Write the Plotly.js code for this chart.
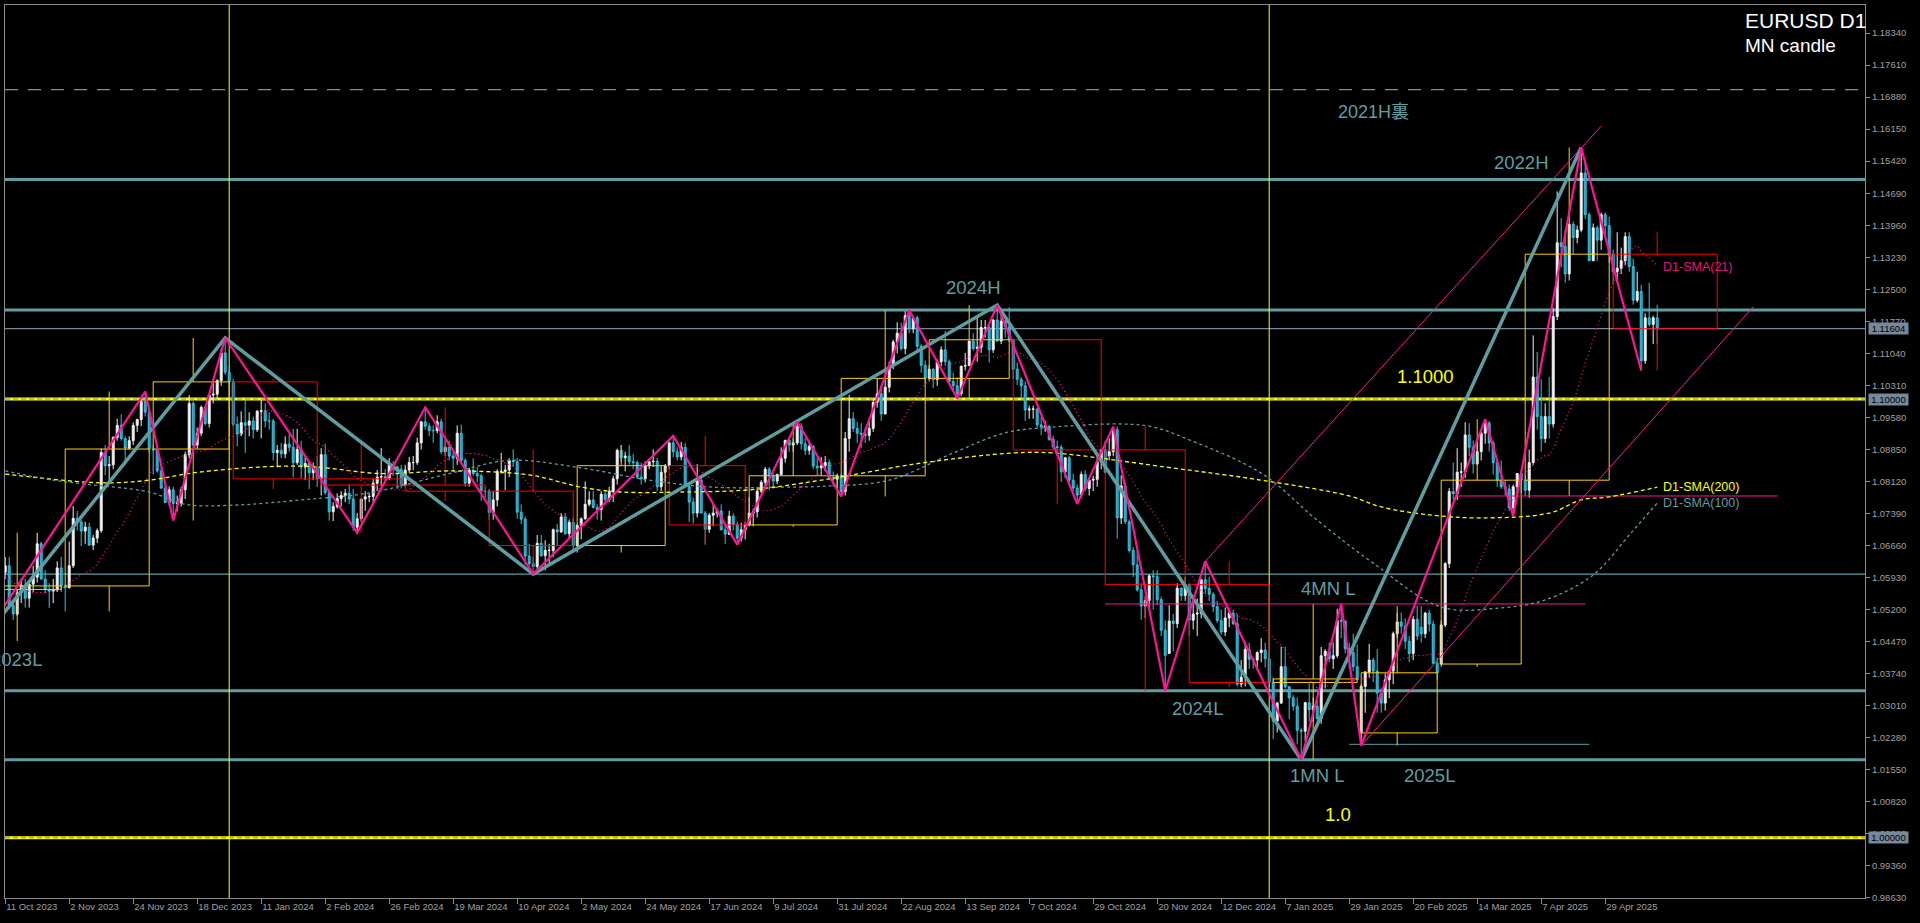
<!DOCTYPE html>
<html><head><meta charset="utf-8">
<script src="https://cdn.plot.ly/plotly-3.0.1.min.js"></script>
<style>html,body{margin:0;padding:0;background:#000;overflow:hidden}#chart{width:1920px;height:923px}</style>
</head><body><div id="chart"></div>
<script>
// ---------------- DATA ----------------
const firstDate = '2023-10-11';
// 20 daily closes before the first visible bar (seed for the 21-day SMA)
const preCloses = [1.0732,1.0643,1.0657,1.0690,1.0678,1.0662,1.0659,1.0646,1.0590,1.0570,1.0502,1.0566,1.0573,1.0475,1.0469,1.0505,1.0549,1.0587,1.0563,1.0605];

const opens = [
// Oct 2023
1.0605,1.0620,1.0530,1.0510,1.0558,1.0576,1.0546,1.0578,1.0594,1.0670,1.0590,1.0565,1.0562,1.0565,1.0615,
// Nov 2023
1.0574,1.0570,1.0620,1.0728,1.0720,1.0699,1.0708,1.0667,1.0683,1.0700,1.0878,1.0848,1.0850,1.0912,1.0940,1.0910,1.0888,1.0905,1.0940,1.0953,1.0995,1.0970,
// Dec 2023
1.0886,1.0884,1.0836,1.0797,1.0764,1.0793,1.0762,1.0763,1.0793,1.0873,1.0990,1.0895,1.0922,1.0981,1.0944,1.1009,1.1011,1.1042,1.1105,1.1061,
// Jan 2024
1.1039,1.0942,1.0920,1.0946,1.0940,1.0950,1.0930,1.0972,1.0973,1.0950,1.0950,1.0878,1.0883,1.0875,1.0897,1.0890,1.0855,1.0885,1.0845,1.0853,1.0832,1.0845,
// Feb 2024
1.0818,1.0873,1.0787,1.0743,1.0755,1.0773,1.0780,1.0785,1.0772,1.0708,1.0727,1.0772,1.0777,1.0778,1.0808,1.0822,1.0823,1.0820,1.0850,1.0845,1.0840,
// Mar 2024
1.0804,1.0838,1.0855,1.0855,1.0900,1.0948,1.0938,1.0928,1.0928,1.0948,1.0880,1.0890,1.0870,1.0865,1.0922,1.0860,1.0808,1.0838,1.0830,1.0825,1.0790,
// Apr 2024
1.0790,1.0741,1.0770,1.0835,1.0835,1.0838,1.0860,1.0857,1.0742,1.0726,1.0642,1.0625,1.0618,1.0671,1.0643,1.0655,1.0655,1.0702,1.0697,1.0731,1.0693,1.0719,
// May 2024
1.0666,1.0712,1.0727,1.0760,1.0770,1.0753,1.0748,1.0783,1.0771,1.0790,1.0818,1.0883,1.0866,1.0870,1.0857,1.0855,1.0822,1.0818,1.0848,1.0857,1.0858,1.0800,1.0833,
// Jun 2024
1.0848,1.0900,1.0880,1.0868,1.0890,1.0801,1.0765,1.0740,1.0815,1.0740,1.0703,1.0735,1.0740,1.0745,1.0702,1.0692,1.0733,1.0714,1.0683,1.0702,
// Jul 2024
1.0713,1.0740,1.0743,1.0790,1.0810,1.0840,1.0824,1.0813,1.0828,1.0865,1.0906,1.0895,1.0900,1.0937,1.0898,1.0883,1.0892,1.0847,1.0843,1.0848,1.0855,1.0820,1.0817,
// Aug 2024
1.0825,1.0789,1.0910,1.0955,1.0933,1.0922,1.0920,1.0917,1.0933,1.0992,1.1012,1.0966,1.1027,1.1075,1.1130,1.1150,1.1115,1.1190,1.1160,1.1185,1.1120,1.1077,
// Sep 2024
1.1047,1.1068,1.1044,1.1085,1.1112,1.1085,1.1040,1.1030,1.1012,1.1075,1.1076,1.1132,1.1115,1.1118,1.1163,1.1163,1.1112,1.1180,1.1132,1.1177,1.1165,
// Oct 2024
1.1135,1.1068,1.1045,1.1030,1.0975,1.0977,1.0977,1.0941,1.0936,1.0938,1.0908,1.0891,1.0890,1.0834,1.0866,1.0815,1.0797,1.0781,1.0828,1.0796,1.0815,1.0817,1.0857,
// Nov 2024
1.0884,1.0870,1.0880,1.0930,1.0729,1.0802,1.0720,1.0655,1.0622,1.0565,1.0528,1.0541,1.0597,1.0595,1.0543,1.0473,1.0420,1.0494,1.0488,1.0569,1.0552,
// Dec 2024
1.0577,1.0496,1.0510,1.0512,1.0588,1.0568,1.0555,1.0527,1.0495,1.0469,1.0501,1.0512,1.0488,1.0350,1.0366,1.0429,1.0407,1.0405,1.0422,1.0428,1.0408,
// Jan 2025
1.0354,1.0266,1.0307,1.0390,1.0344,1.0319,1.0300,1.0245,1.0243,1.0308,1.0292,1.0300,1.0272,1.0415,1.0425,1.0408,1.0415,1.0495,1.0494,1.0431,1.0422,1.0390,
// Feb 2025
1.0239,1.0345,1.0378,1.0405,1.0380,1.0330,1.0307,1.0360,1.0380,1.0465,1.0492,1.0482,1.0448,1.0420,1.0498,1.0480,1.0465,1.0512,1.0487,1.0398,
// Mar 2025
1.0396,1.0485,1.0625,1.0789,1.0784,1.0833,1.0834,1.0918,1.0890,1.0852,1.0880,1.0922,1.0945,1.0900,1.0855,1.0815,1.0800,1.0795,1.0752,1.0800,1.0830,
// Apr 2025
1.0815,1.0792,1.0855,1.1050,1.0960,1.0910,1.0960,1.0943,1.1188,1.1356,1.1348,1.1285,1.1398,1.1368,1.1385,1.1515,1.1420,1.1315,1.1390,1.1362,1.1420,1.1395,
// May 2025
1.1330,1.1290,1.1298,1.1315,1.1370,1.1302,1.1225,1.1245,1.1087,1.1185,1.1170,1.1185
];
const highs = [
1.0640,1.0640,1.0540,1.0565,1.0590,1.0590,1.0582,1.0620,1.0695,1.0675,1.0610,1.0580,1.0590,1.0630,1.0640,
1.0577,1.0675,1.0756,1.0745,1.0725,1.0720,1.0718,1.0690,1.0705,1.0887,1.0895,1.0870,1.0915,1.0955,1.0965,1.0915,1.0915,1.0947,1.0955,1.1000,1.1017,1.0980,
1.0895,1.0890,1.0845,1.0805,1.0801,1.0800,1.0780,1.0800,1.0880,1.1009,1.0995,1.0935,1.0985,1.0985,1.1012,1.1040,1.1045,1.1115,1.1139,1.1075,
1.1046,1.0960,1.0972,1.0998,1.0970,1.0960,1.0975,1.0998,1.0990,1.0970,1.0955,1.0895,1.0900,1.0915,1.0920,1.0932,1.0932,1.0905,1.0870,1.0858,1.0855,1.0870,
1.0888,1.0898,1.0790,1.0765,1.0785,1.0790,1.0795,1.0805,1.0795,1.0740,1.0770,1.0790,1.0785,1.0818,1.0838,1.0888,1.0840,1.0865,1.0858,1.0848,1.0850,
1.0850,1.0868,1.0870,1.0912,1.0950,1.0981,1.0945,1.0940,1.0963,1.0955,1.0907,1.0905,1.0880,1.0940,1.0942,1.0865,1.0843,1.0865,1.0845,1.0830,1.0800,
1.0795,1.0790,1.0840,1.0877,1.0850,1.0865,1.0885,1.0866,1.0760,1.0732,1.0670,1.0640,1.0690,1.0690,1.0678,1.0670,1.0705,1.0715,1.0740,1.0740,1.0725,1.0730,
1.0715,1.0730,1.0812,1.0790,1.0790,1.0760,1.0790,1.0790,1.0800,1.0825,1.0887,1.0895,1.0880,1.0895,1.0875,1.0860,1.0855,1.0858,1.0865,1.0885,1.0866,1.0850,1.0852,
1.0902,1.0916,1.0890,1.0902,1.0900,1.0805,1.0775,1.0852,1.0823,1.0745,1.0740,1.0760,1.0750,1.0760,1.0712,1.0745,1.0740,1.0720,1.0718,1.0720,
1.0776,1.0750,1.0800,1.0815,1.0845,1.0845,1.0830,1.0830,1.0890,1.0905,1.0910,1.0910,1.0948,1.0945,1.0910,1.0905,1.0895,1.0867,1.0868,1.0870,1.0862,1.0835,1.0830,
1.0830,1.0925,1.1009,1.0970,1.0948,1.0945,1.0935,1.0948,1.1000,1.1047,1.1030,1.1045,1.1085,1.1135,1.1175,1.1174,1.1200,1.1202,1.1187,1.1190,1.1125,1.1088,
1.1077,1.1070,1.1090,1.1120,1.1155,1.1090,1.1060,1.1050,1.1075,1.1105,1.1133,1.1150,1.1190,1.1180,1.1180,1.1167,1.1182,1.1214,1.1190,1.1180,1.1209,
1.1137,1.1083,1.1050,1.1040,1.0985,1.0985,1.0980,1.0960,1.0950,1.0940,1.0916,1.0905,1.0895,1.0868,1.0870,1.0830,1.0805,1.0835,1.0838,1.0822,1.0825,1.0870,1.0885,
1.0905,1.0910,1.0937,1.0937,1.0826,1.0810,1.0725,1.0663,1.0654,1.0580,1.0550,1.0600,1.0610,1.0610,1.0550,1.0495,1.0530,1.0510,1.0580,1.0570,1.0595,
1.0580,1.0540,1.0545,1.0590,1.0630,1.0595,1.0560,1.0540,1.0520,1.0525,1.0522,1.0520,1.0510,1.0405,1.0445,1.0445,1.0410,1.0425,1.0455,1.0445,1.0420,
1.0365,1.0310,1.0436,1.0435,1.0346,1.0325,1.0320,1.0250,1.0310,1.0352,1.0320,1.0312,1.0435,1.0430,1.0445,1.0445,1.0522,1.0533,1.0495,1.0445,1.0465,1.0440,
1.0350,1.0380,1.0442,1.0410,1.0430,1.0340,1.0375,1.0380,1.0470,1.0513,1.0513,1.0500,1.0460,1.0505,1.0528,1.0528,1.0515,1.0520,1.0495,1.0410,
1.0495,1.0628,1.0797,1.0855,1.0888,1.0855,1.0947,1.0945,1.0905,1.0910,1.0925,1.0954,1.0950,1.0905,1.0862,1.0860,1.0815,1.0805,1.0805,1.0830,1.0838,
1.0825,1.0885,1.1145,1.1107,1.1045,1.0990,1.1050,1.1208,1.1473,1.1412,1.1385,1.1400,1.1405,1.1395,1.1573,1.1545,1.1425,1.1400,1.1395,1.1425,1.1425,1.1415,
1.1340,1.1380,1.1345,1.1380,1.1380,1.1320,1.1290,1.1260,1.1195,1.1265,1.1190,1.1215
];
const lows = [
1.0590,1.0526,1.0496,1.0505,1.0535,1.0525,1.0525,1.0560,1.0582,1.0588,1.0557,1.0524,1.0535,1.0560,1.0560,
1.0516,1.0568,1.0615,1.0700,1.0665,1.0670,1.0665,1.0656,1.0672,1.0695,1.0826,1.0812,1.0840,1.0905,1.0905,1.0852,1.0885,1.0895,1.0925,1.0938,1.0960,1.0880,
1.0828,1.0832,1.0795,1.0763,1.0757,1.0723,1.0744,1.0755,1.0772,1.0865,1.0880,1.0887,1.0915,1.0940,1.0935,1.0990,1.1000,1.1030,1.1055,1.1030,
1.0937,1.0892,1.0915,1.0877,1.0915,1.0910,1.0925,1.0910,1.0935,1.0930,1.0860,1.0844,1.0865,1.0865,1.0880,1.0821,1.0850,1.0820,1.0815,1.0795,1.0815,1.0800,
1.0780,1.0782,1.0723,1.0722,1.0750,1.0755,1.0765,1.0760,1.0700,1.0695,1.0720,1.0745,1.0765,1.0760,1.0790,1.0800,1.0815,1.0815,1.0825,1.0795,1.0796,
1.0800,1.0832,1.0838,1.0850,1.0885,1.0930,1.0915,1.0900,1.0922,1.0875,1.0870,1.0860,1.0835,1.0850,1.0855,1.0800,1.0800,1.0825,1.0810,1.0768,1.0775,
1.0725,1.0725,1.0755,1.0830,1.0792,1.0822,1.0845,1.0727,1.0715,1.0622,1.0620,1.0601,1.0610,1.0640,1.0610,1.0625,1.0640,1.0665,1.0695,1.0690,1.0680,1.0650,
1.0650,1.0680,1.0725,1.0755,1.0750,1.0725,1.0723,1.0760,1.0765,1.0765,1.0805,1.0855,1.0835,1.0850,1.0840,1.0818,1.0805,1.0810,1.0840,1.0845,1.0790,1.0790,1.0812,
1.0840,1.0867,1.0860,1.0860,1.0800,1.0720,1.0716,1.0730,1.0740,1.0668,1.0695,1.0710,1.0730,1.0700,1.0670,1.0690,1.0700,1.0668,1.0675,1.0680,
1.0710,1.0710,1.0730,1.0785,1.0800,1.0792,1.0796,1.0806,1.0825,1.0855,1.0880,1.0880,1.0895,1.0885,1.0872,1.0873,1.0840,1.0825,1.0825,1.0835,1.0815,1.0800,1.0795,
1.0778,1.0780,1.0880,1.0925,1.0900,1.0888,1.0900,1.0905,1.0925,1.0980,1.0950,1.0965,1.1015,1.1068,1.1104,1.1110,1.1102,1.1150,1.1150,1.1110,1.1060,1.1035,
1.1040,1.1025,1.1030,1.1075,1.1075,1.1040,1.1017,1.1001,1.1007,1.1065,1.1075,1.1110,1.1085,1.1105,1.1140,1.1083,1.1105,1.1130,1.1125,1.1140,1.1130,
1.1045,1.1032,1.1002,1.0950,1.0955,1.0955,1.0935,1.0918,1.0925,1.0905,1.0885,1.0870,1.0811,1.0820,1.0810,1.0790,1.0761,1.0775,1.0790,1.0780,1.0790,1.0800,1.0840,
1.0830,1.0860,1.0870,1.0682,1.0715,1.0715,1.0650,1.0594,1.0561,1.0497,1.0500,1.0525,1.0520,1.0530,1.0460,1.0335,1.0425,1.0425,1.0478,1.0540,1.0540,
1.0460,1.0475,1.0460,1.0500,1.0555,1.0540,1.0515,1.0490,1.0463,1.0460,1.0480,1.0485,1.0345,1.0343,1.0345,1.0385,1.0385,1.0390,1.0400,1.0388,1.0343,
1.0225,1.0240,1.0305,1.0340,1.0270,1.0290,1.0213,1.0178,1.0220,1.0265,1.0265,1.0265,1.0260,1.0340,1.0400,1.0385,1.0410,1.0455,1.0420,1.0385,1.0380,1.0360,
1.0210,1.0285,1.0365,1.0355,1.0285,1.0285,1.0290,1.0318,1.0350,1.0455,1.0465,1.0430,1.0400,1.0405,1.0450,1.0445,1.0455,1.0470,1.0395,1.0360,
1.0390,1.0480,1.0615,1.0770,1.0770,1.0800,1.0820,1.0870,1.0830,1.0850,1.0860,1.0898,1.0880,1.0828,1.0800,1.0795,1.0780,1.0745,1.0733,1.0780,1.0785,
1.0779,1.0775,1.0850,1.0930,1.0880,1.0900,1.0910,1.0935,1.1180,1.1300,1.1265,1.1270,1.1330,1.1355,1.1380,1.1410,1.1315,1.1315,1.1315,1.1340,1.1375,1.1310,
1.1265,1.1265,1.1285,1.1305,1.1290,1.1215,1.1220,1.1065,1.1080,1.1165,1.1125,1.1125
];
const closes = [
1.0620,1.0530,1.0510,1.0558,1.0576,1.0546,1.0578,1.0594,1.0670,1.0590,1.0565,1.0562,1.0565,1.0615,1.0574,
1.0570,1.0620,1.0728,1.0720,1.0699,1.0708,1.0667,1.0683,1.0700,1.0878,1.0848,1.0850,1.0912,1.0940,1.0910,1.0888,1.0905,1.0940,1.0953,1.0995,1.0970,1.0886,
1.0884,1.0836,1.0797,1.0764,1.0793,1.0762,1.0763,1.0793,1.0873,1.0990,1.0895,1.0922,1.0981,1.0944,1.1009,1.1011,1.1042,1.1105,1.1061,1.1039,
1.0942,1.0920,1.0946,1.0940,1.0950,1.0930,1.0972,1.0973,1.0950,1.0950,1.0878,1.0883,1.0875,1.0897,1.0890,1.0855,1.0885,1.0845,1.0853,1.0832,1.0845,1.0818,
1.0873,1.0787,1.0743,1.0755,1.0773,1.0780,1.0785,1.0772,1.0708,1.0727,1.0772,1.0777,1.0778,1.0808,1.0822,1.0823,1.0820,1.0850,1.0845,1.0840,1.0804,
1.0838,1.0855,1.0855,1.0900,1.0948,1.0938,1.0928,1.0928,1.0948,1.0880,1.0890,1.0870,1.0865,1.0922,1.0860,1.0808,1.0838,1.0830,1.0825,1.0790,1.0790,
1.0741,1.0770,1.0835,1.0835,1.0838,1.0860,1.0857,1.0742,1.0726,1.0642,1.0625,1.0618,1.0671,1.0643,1.0655,1.0655,1.0702,1.0697,1.0731,1.0693,1.0719,1.0666,
1.0712,1.0727,1.0760,1.0770,1.0753,1.0748,1.0783,1.0771,1.0790,1.0818,1.0883,1.0866,1.0870,1.0857,1.0855,1.0822,1.0818,1.0848,1.0857,1.0858,1.0800,1.0833,1.0848,
1.0900,1.0880,1.0868,1.0890,1.0801,1.0765,1.0740,1.0815,1.0740,1.0703,1.0735,1.0740,1.0745,1.0702,1.0692,1.0733,1.0714,1.0683,1.0702,1.0713,
1.0740,1.0743,1.0790,1.0810,1.0840,1.0824,1.0813,1.0828,1.0865,1.0906,1.0895,1.0900,1.0937,1.0898,1.0883,1.0892,1.0847,1.0843,1.0848,1.0855,1.0820,1.0817,1.0825,
1.0789,1.0910,1.0955,1.0933,1.0922,1.0920,1.0917,1.0933,1.0992,1.1012,1.0966,1.1027,1.1075,1.1130,1.1150,1.1115,1.1190,1.1160,1.1185,1.1120,1.1077,1.1047,
1.1068,1.1044,1.1085,1.1112,1.1085,1.1040,1.1030,1.1012,1.1075,1.1076,1.1132,1.1115,1.1118,1.1163,1.1163,1.1112,1.1180,1.1132,1.1177,1.1165,1.1135,
1.1068,1.1045,1.1030,1.0975,1.0977,1.0977,1.0941,1.0936,1.0938,1.0908,1.0891,1.0890,1.0834,1.0866,1.0815,1.0797,1.0781,1.0828,1.0796,1.0815,1.0817,1.0857,1.0884,
1.0833,1.0880,1.0930,1.0729,1.0802,1.0720,1.0655,1.0622,1.0565,1.0528,1.0541,1.0597,1.0595,1.0543,1.0473,1.0416,1.0494,1.0488,1.0569,1.0552,1.0577,
1.0496,1.0510,1.0512,1.0588,1.0568,1.0555,1.0527,1.0495,1.0469,1.0501,1.0512,1.0488,1.0350,1.0366,1.0429,1.0407,1.0405,1.0422,1.0428,1.0408,1.0354,
1.0266,1.0307,1.0390,1.0344,1.0319,1.0300,1.0245,1.0243,1.0308,1.0292,1.0300,1.0272,1.0415,1.0425,1.0408,1.0415,1.0495,1.0494,1.0431,1.0422,1.0390,1.0362,
1.0345,1.0378,1.0405,1.0380,1.0330,1.0307,1.0360,1.0380,1.0465,1.0492,1.0482,1.0448,1.0420,1.0498,1.0460,1.0465,1.0512,1.0487,1.0398,1.0376,
1.0485,1.0625,1.0789,1.0784,1.0833,1.0834,1.0918,1.0890,1.0852,1.0880,1.0922,1.0945,1.0900,1.0855,1.0815,1.0800,1.0795,1.0752,1.0800,1.0830,1.0815,
1.0792,1.0855,1.1050,1.0960,1.0910,1.0960,1.0943,1.1188,1.1356,1.1348,1.1285,1.1398,1.1368,1.1385,1.1515,1.1420,1.1315,1.1390,1.1362,1.1420,1.1395,1.1330,
1.1290,1.1298,1.1315,1.1370,1.1302,1.1225,1.1245,1.1087,1.1185,1.1170,1.1185,1.1160
];

// monthly candles (MN candle)
const months  = ['2023-10','2023-11','2023-12','2024-01','2024-02','2024-03','2024-04','2024-05','2024-06','2024-07','2024-08','2024-09','2024-10','2024-11','2024-12','2025-01','2025-02','2025-03','2025-04','2025-05'];
const mOpen  = [1.0566,1.0574,1.0886,1.1039,1.0818,1.0804,1.0790,1.0666,1.0848,1.0713,1.0825,1.1047,1.1135,1.0884,1.0577,1.0354,1.0239,1.0396,1.0815,1.1330];
const mHigh  = [1.0695,1.1017,1.1139,1.1046,1.0898,1.0981,1.0885,1.0895,1.0916,1.0948,1.1202,1.1214,1.1137,1.0937,1.0630,1.0533,1.0528,1.0954,1.1573,1.1380];
const mLow   = [1.0448,1.0516,1.0723,1.0795,1.0695,1.0768,1.0601,1.0650,1.0668,1.0709,1.0778,1.1001,1.0761,1.0335,1.0343,1.0178,1.0210,1.0390,1.0779,1.1065];
const mClose = [1.0574,1.0886,1.1039,1.0818,1.0804,1.0790,1.0666,1.0848,1.0713,1.0825,1.1047,1.1135,1.0884,1.0577,1.0354,1.0362,1.0376,1.0815,1.1330,1.1160];

// swing zigzags
const zzPinkDates  = ['2023-10-03','2023-11-29','2023-12-08','2023-12-28','2024-02-14','2024-03-08','2024-04-16','2024-06-04','2024-06-26','2024-07-17','2024-08-01','2024-08-26','2024-09-11','2024-09-25','2024-10-23','2024-11-05','2024-11-22','2024-12-06','2025-01-13','2025-01-27','2025-02-03','2025-03-18','2025-03-27','2025-04-21','2025-05-12'];
const zzPinkPrices = [1.0448,1.1017,1.0723,1.1139,1.0695,1.0981,1.0601,1.0916,1.0668,1.0948,1.0778,1.1202,1.1001,1.1214,1.0761,1.0937,1.0335,1.0630,1.0178,1.0533,1.0210,1.0954,1.0733,1.1573,1.1065];
const zzCyanDates  = ['2023-10-03','2023-12-28','2024-04-16','2024-09-25','2025-01-13','2025-04-21'];
const zzCyanPrices = [1.0448,1.1139,1.0601,1.1214,1.0178,1.1573];

// trend channel (pink thin)
const chanADates = ['2024-12-06','2025-04-28'], chanAPrices = [1.0630,1.1622];
const chanBDates = ['2025-02-03','2025-06-09'], chanBPrices = [1.0210,1.1210];
// partial horizontal levels
const segPinkDates = [['2024-11-01','2025-04-22'],['2025-03-07','2025-06-15']], segPinkPrices = [1.0533,1.0779];
const seg2025LDates = ['2025-01-29','2025-04-23'], seg2025LPrice = 1.0213;

// full-width horizontal levels
const lvlDashed = 1.1705;
const lvlThick = [1.1500,1.1203,1.0335,1.0178];
const lvlThin = [1.0601];
const lvlYellow = [1.1000,1.0000];
const bidPrice = 1.11604;
const yearEndDates = ['2023-12-29','2024-12-31'];

// moving averages (bar number, value)
const sma200Bar = [0,24,36,49,74,94,111,131,144,154,169,186,204,229,252,262,290,314,336,344,356,369,386,394,401,413];
const sma200Val = [1.0829,1.0809,1.0815,1.0834,1.0847,1.0830,1.0836,1.0827,1.0799,1.0788,1.0788,1.0793,1.0815,1.0854,1.0877,1.0877,1.0845,1.0815,1.0779,1.0754,1.0736,1.0729,1.0740,1.0770,1.0777,1.0799];
const sma100Bar = [0,12,20,36,45,57,74,91,111,126,144,161,177,194,204,221,237,250,262,279,287,296,314,328,342,359,374,385,397,406,413];
const sma100Val = [1.0836,1.0815,1.0806,1.0788,1.0760,1.0758,1.0770,1.0786,1.0830,1.0860,1.0843,1.0815,1.0799,1.0799,1.0801,1.0815,1.0877,1.0923,1.0936,1.0943,1.0936,1.0907,1.0831,1.0724,1.0626,1.0526,1.0524,1.0542,1.0599,1.0690,1.0763];

const tickLabels = ['11 Oct 2023','2 Nov 2023','24 Nov 2023','18 Dec 2023','11 Jan 2024','2 Feb 2024','26 Feb 2024','19 Mar 2024','10 Apr 2024','2 May 2024','24 May 2024','17 Jun 2024','9 Jul 2024','31 Jul 2024','22 Aug 2024','13 Sep 2024','7 Oct 2024','29 Oct 2024','20 Nov 2024','12 Dec 2024','7 Jan 2025','29 Jan 2025','20 Feb 2025','14 Mar 2025','7 Apr 2025','29 Apr 2025'];

// ---------------- CALENDAR (trading-bar axis) ----------------
const DAY = 86400000;
function parseD(s){const p=s.split('-').map(Number);return Date.UTC(p[0],p[1]-1,p[2]||1);}
function isTD(t){const d=new Date(t),w=d.getUTCDay();if(w===0||w===6)return false;const mo=d.getUTCMonth(),da=d.getUTCDate();if(mo===11&&da===25)return false;if(mo===0&&da===1)return false;return true;}
const N = closes.length;
const t0 = parseD(firstDate);
const barTimes = [];
for(let t=t0; barTimes.length<N; t+=DAY){ if(isTD(t)) barTimes.push(t); }
const lastT = barTimes[N-1];
function idxT(t){
  if(t>lastT) return (N-1)+Math.round((t-lastT)/DAY);
  if(t<t0){ let k=0; for(let u=t0-DAY; u>=t; u-=DAY){ if(isTD(u)) k--; } return k; }
  let i=0; while(i+1<N && barTimes[i+1]<=t) i++; return i;
}
function idxOf(s){return idxT(parseD(s));}
const MON={Jan:1,Feb:2,Mar:3,Apr:4,May:5,Jun:6,Jul:7,Aug:8,Sep:9,Oct:10,Nov:11,Dec:12};
function labelIdx(l){const p=l.split(' ');return idxT(Date.UTC(+p[2],MON[p[1]]-1,+p[0]));}

const barX = barTimes.map((_,i)=>i);

// ---------------- DERIVED ----------------
const allC = preCloses.concat(closes);
const sma21 = barX.map(i=>{let s=0;for(let k=i;k<=i+20;k++)s+=allC[k];return s/21;});

const boxY={x:[],y:[]}, boxR={x:[],y:[]};
months.forEach((m,j)=>{
  const [yy,mm]=m.split('-').map(Number);
  const dim=new Date(Date.UTC(yy,mm,0)).getUTCDate();
  let ft=Date.UTC(yy,mm-1,1); while(!isTD(ft)) ft+=DAY;
  let et=Date.UTC(yy,mm-1,dim);
  if(et<=lastT){ while(!isTD(et)) et-=DAY; }
  const x0=idxT(ft), x1=idxT(et);
  const mid=idxT(Date.UTC(yy,mm-1,Math.floor(1+dim/2)));
  const top=Math.max(mOpen[j],mClose[j]), bot=Math.min(mOpen[j],mClose[j]);
  const b = mClose[j]>=mOpen[j]?boxY:boxR;
  b.x.push(x0,x1,x1,x0,x0,null, mid,mid,null, mid,mid,null);
  b.y.push(top,top,bot,bot,top,null, mHigh[j],top,null, bot,mLow[j],null);
});

function lineTrace(x,y,color,width,dash,extra){return Object.assign({type:'scatter',mode:'lines',x:x,y:y,line:{color:color,width:width,dash:dash||'solid'},hoverinfo:'skip',showlegend:false,connectgaps:false},extra||{});}

const segPX=[],segPY=[];
segPinkDates.forEach((d,k)=>{segPX.push(idxOf(d[0]),idxOf(d[1]),null);segPY.push(segPinkPrices[k],segPinkPrices[k],null);});

const CADET='#5f9ea0', PINK='#ff1493', YEL='#ffff00', GOLD='#ffd000';
const traces = [
  lineTrace(boxY.x,boxY.y,GOLD,1),
  lineTrace(boxR.x,boxR.y,'#ff0000',1),
  lineTrace(segPX,segPY,PINK,1),
  lineTrace(seg2025LDates.map(idxOf),[seg2025LPrice,seg2025LPrice],CADET,1),
  {type:'candlestick',x:barX,open:opens,high:highs,low:lows,close:closes,
   increasing:{line:{color:'#f4f0f0',width:1},fillcolor:'#f4eeee'},
   decreasing:{line:{color:'#36c6d6',width:1},fillcolor:'#1e90ff'},
   whiskerwidth:0,hoverinfo:'skip',showlegend:false},
  lineTrace(sma200Bar,sma200Val,YEL,1.3,'4px,3px',{line:{color:YEL,width:1.3,dash:'4px,3px',shape:'spline'}}),
  lineTrace(sma100Bar,sma100Val,CADET,1.3,'3px,3px',{line:{color:CADET,width:1.3,dash:'3px,3px',shape:'spline'}}),
  lineTrace(barX,sma21,PINK,1.2,'1px,3px'),
  lineTrace(chanADates.map(idxOf),chanAPrices,PINK,1),
  lineTrace(chanBDates.map(idxOf),chanBPrices,PINK,1),
  lineTrace(zzCyanDates.map(idxOf),zzCyanPrices,CADET,3.5),
  lineTrace(zzPinkDates.map(idxOf),zzPinkPrices,PINK,2.2)
];

// shapes: full width levels + year separators
const shapes=[];
function hline(y,color,width,dash){shapes.push({type:'line',xref:'paper',x0:0,x1:1,yref:'y',y0:y,y1:y,line:{color:color,width:width,dash:dash||'solid'},layer:'below'});}
hline(lvlDashed,CADET,1.3,'13px,10px');
lvlThick.forEach(v=>hline(v,CADET,3));
lvlThin.forEach(v=>hline(v,CADET,1.3));
lvlYellow.forEach(v=>{hline(v,YEL,3);hline(v,'#7a8aa0',1,'5px,3px');});
hline(bidPrice,'#778899',1.3);
yearEndDates.forEach(d=>{const x=idxOf(d);shapes.push({type:'line',xref:'x',x0:x,x1:x,yref:'paper',y0:0,y1:1,line:{color:YEL,width:1},layer:'below'});});

// annotations
const LF='Liberation Sans, Arial, "Noto Sans CJK JP", sans-serif';
const ann=[];
function txt(text,i,p,color,size,xanchor){ann.push({text:text,xref:'x',yref:'y',x:i,y:p,showarrow:false,xanchor:xanchor||'center',yanchor:'middle',font:{family:LF,size:size,color:color}});}
txt('2021H裏',342,1.1654,CADET,18);
txt('2022H',379,1.1540,CADET,18.5);
txt('2024H',242,1.1255,CADET,18.5);
txt('1.1000',355,1.1052,YEL,18.5);
txt('4MN L',330.75,1.0569,CADET,18.5);
txt('2024L',298,1.0294,CADET,18.5);
txt('1MN L',328,1.0141,CADET,18.5);
txt('2025L',356,1.0141,CADET,18.5);
txt('1.0',333.25,1.0052,YEL,18.5);
txt('2023L',9.75,1.0407,CADET,18.5,'right');
txt('D1-SMA(21)',414,1.1301,'#e8137a',12.5,'left');
txt('D1-SMA(200)',414,1.0799,YEL,12.5,'left');
txt('D1-SMA(100)',414,1.0763,CADET,12.5,'left');
ann.push({text:'EURUSD D1',xref:'paper',yref:'paper',x:(1743-5)/1860,y:(898-21)/893,xanchor:'left',yanchor:'middle',showarrow:false,font:{family:LF,size:21,color:'#ffffff'}});
ann.push({text:'MN candle',xref:'paper',yref:'paper',x:(1743-5)/1860,y:(898-45)/893,xanchor:'left',yanchor:'middle',showarrow:false,font:{family:LF,size:19,color:'#ffffff'}});
const AXF='"Liberation Sans", Arial, sans-serif';
[[bidPrice,'1.11604'],[1.1,'1.10000'],[1.0,'1.00000']].forEach(a=>{
  ann.push({text:a[1],xref:'paper',yref:'y',x:1,y:a[0],xanchor:'left',yanchor:'middle',xshift:3,showarrow:false,bgcolor:'#778899',borderpad:0,width:39,height:11,font:{family:AXF,size:9.5,color:'#000000'}});
});

const layout={
  width:1920,height:923,paper_bgcolor:'#000000',plot_bgcolor:'#000000',
  margin:{l:5,r:55,t:5,b:25},showlegend:false,
  xaxis:{range:[-0.05,464.95],showgrid:false,zeroline:false,showline:true,mirror:true,linecolor:'#8a8a8a',linewidth:1,
    ticks:'outside',ticklen:5,tickcolor:'#8a8a8a',tickvals:tickLabels.map(labelIdx),ticktext:tickLabels,tickangle:0,
    ticklabelposition:'outside right',tickfont:{family:AXF,size:9.5,color:'#a0a0a0'},rangeslider:{visible:false},fixedrange:true},
  yaxis:{side:'right',range:[0.98628,1.18979],showgrid:false,zeroline:false,showline:true,mirror:true,linecolor:'#8a8a8a',linewidth:1,
    ticks:'outside',ticklen:4,tickcolor:'#8a8a8a',tick0:0.9936,dtick:0.0073,tickformat:'.5f',
    tickfont:{family:AXF,size:9.5,color:'#a0a0a0'},fixedrange:true},
  shapes:shapes,annotations:ann,boxgap:0.3
};
Plotly.newPlot('chart',traces,layout,{displayModeBar:false,staticPlot:true});
</script></body></html>
